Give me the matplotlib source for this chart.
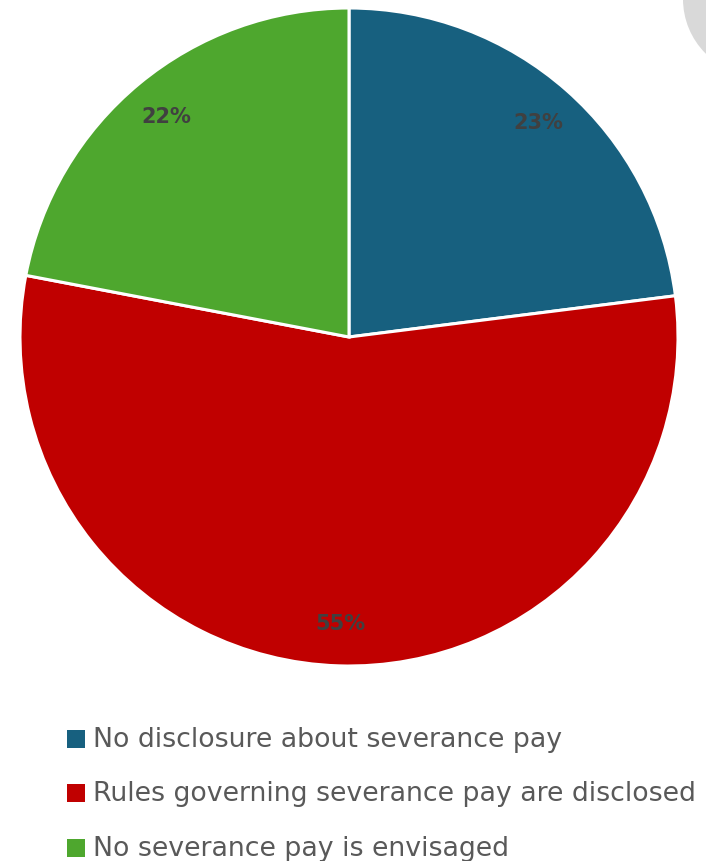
import matplotlib.pyplot as plt
from matplotlib.patches import Ellipse, Rectangle

# severance pay disclosure shares
categories = ['No disclosure about severance pay',
              'Rules governing severance pay are disclosed',
              'No severance pay is envisaged']
shares = [23, 55, 22]
colors = ['#17607f', '#c00000', '#4ea72e']

W, H = 706, 862
fig = plt.figure(figsize=(W / 100, H / 100), dpi=100)

def fx(px):
    return px / W

def fy(py):
    # pixel row from the top -> figure fraction
    return 1 - py / H

# decorative grey disc in the top right corner
fig.patches.append(Ellipse((fx(760), fy(0)), 2 * 77 / W, 2 * 77 / H,
                           transform=fig.transFigure, facecolor='#d9d9d9',
                           edgecolor='none', zorder=0))

# pie axes: centre at (349, 338) px, radius 329 px
cx, cy, r = 349, 338, 329
ax = fig.add_axes([fx(cx - r), fy(cy + r), 2 * r / W, 2 * r / H])
wedges, texts, autotexts = ax.pie(
    shares, colors=colors, startangle=90, counterclock=False, radius=1,
    autopct='%d%%', pctdistance=0.87,
    wedgeprops=dict(edgecolor='white', linewidth=2.2),
    textprops=dict(color='#404040', fontsize=15, fontweight='bold'))
ax.set_xlim(-1, 1)
ax.set_ylim(-1, 1)
ax.set_aspect('equal')
ax.axis('off')

# legend drawn by hand: square marker + label per row
row_y = [740, 794, 849]
for c, label, y in zip(colors, categories, row_y):
    fig.patches.append(Rectangle((fx(67), fy(y + 9)), 18 / W, 18 / H,
                                 transform=fig.transFigure, facecolor=c,
                                 edgecolor='none'))
    fig.text(fx(93), fy(y), label, fontsize=19.3, color='#595959',
             va='center', ha='left')

fig.savefig('out.png', dpi=100)
